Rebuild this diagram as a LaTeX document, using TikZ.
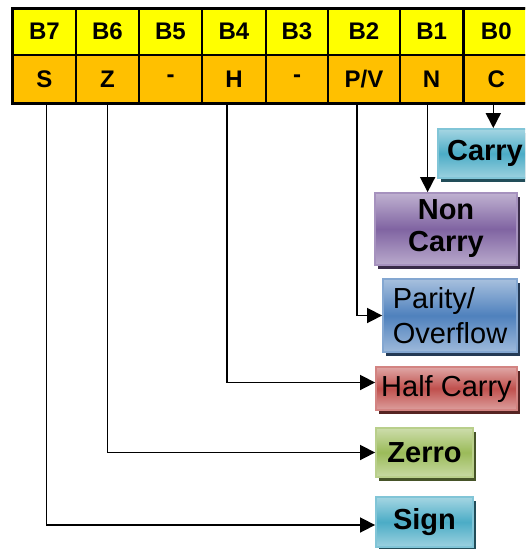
\documentclass[tikz,border=0pt]{standalone}
\usepackage{fontspec}
\setmainfont{Liberation Sans}
\usepackage{xcolor}
\usetikzlibrary{arrows.meta,calc,positioning,shadows}

\definecolor{bityellow}{HTML}{FFFF00}
\definecolor{flagorange}{HTML}{FFC000}
\definecolor{aquabox}{HTML}{4BACC6}
\definecolor{purplebox}{HTML}{8064A2}
\definecolor{bluebox}{HTML}{4F81BD}
\definecolor{redbox}{HTML}{C0504D}
\definecolor{greenbox}{HTML}{9BBB59}

\tikzset{
	cell/.style={draw, line width=2.4pt, outer sep=0pt, inner sep=0pt, anchor=north west, font=\fontsize{24}{26}\selectfont\bfseries},
	bitcell/.style={cell, fill=bityellow, minimum height=47pt},
	flagcell/.style={cell, fill=flagorange, minimum height=48pt},
	flagbox/.style={line width=1.8pt, inner sep=1pt, align=center, font=\fontsize{29}{33}\selectfont,
		top color=#1!50!white, bottom color=#1!55!white, middle color=#1, draw=#1!70!white,
		drop shadow={shadow xshift=3pt, shadow yshift=-4pt, fill=#1!45!black, opacity=1}},
	link/.style={line width=1.6pt, -{Triangle[length=15pt,width=15pt]}},
}

\begin{document}
\begin{tikzpicture}[x=1pt,y=-1pt]
		\useasboundingbox (0,0) rectangle (525,549);
		\clip (0,0) rectangle (525,549);
		% register bits and flags
		\foreach \bit/\flag/\x/\w in {7/S/12.7/63.3, 6/Z/76/63, 5/-/139/63, 4/H/202/64, 3/-/266/62, 2/{P/V}/328/72, 1/N/400/63.3, 0/C/463.3/66}
		{
			\node[bitcell, minimum width=\w] (b\bit) at (\x,8) {B\bit};
			\node[flagcell, minimum width=\w] (f\bit) at (\x,55) {\flag};
		}
		\draw[line width=3pt] (b7.north west) rectangle (f0.south east);
		% flag boxes
		\node[flagbox=aquabox, minimum width=94pt, minimum height=49pt, font=\fontsize{29}{33}\selectfont\bfseries] (carry) at (485,153.5) {Carry};
		\node[flagbox=purplebox, minimum width=142pt, minimum height=72pt, font=\fontsize{29}{32}\selectfont\bfseries] (noncarry) at (446,229) {Non\\Carry};
		\node[flagbox=bluebox, minimum width=134pt, minimum height=73pt, align=left, font=\fontsize{29}{35}\selectfont] (parity) at (450,315.5) {Parity/\\Overflow};
		\node[flagbox=redbox, minimum width=141pt, minimum height=43pt] (half) at (446.5,388.5) {Half Carry};
		\node[flagbox=greenbox, minimum width=97pt, minimum height=49pt, font=\fontsize{29}{33}\selectfont\bfseries] (zerro) at (424.5,452.5) {Zerro};
		\node[flagbox=aquabox, minimum width=97pt, minimum height=50pt, font=\fontsize{29}{33}\selectfont\bfseries] (sign) at (424.5,522) {Sign};
		% connectors
		\coordinate (cdrop) at ([xshift=-3pt]f0.south);
		\coordinate (ndrop) at ([xshift=-4pt]f1.south);
		\draw[link] (cdrop) -- (cdrop |- carry.north);
		\draw[link] (ndrop) -- (ndrop |- noncarry.north);
		\draw[link] ([xshift=-7pt]f2.south) |- (parity.west);
		\draw[link] ([xshift=-7pt]f4.south) |- ([yshift=6pt]half.west);
		\draw[link] (f6.south) |- (zerro.west);
		\draw[link] ([xshift=2pt]f7.south) |- ([yshift=-3pt]sign.west);
\end{tikzpicture}
\end{document}
